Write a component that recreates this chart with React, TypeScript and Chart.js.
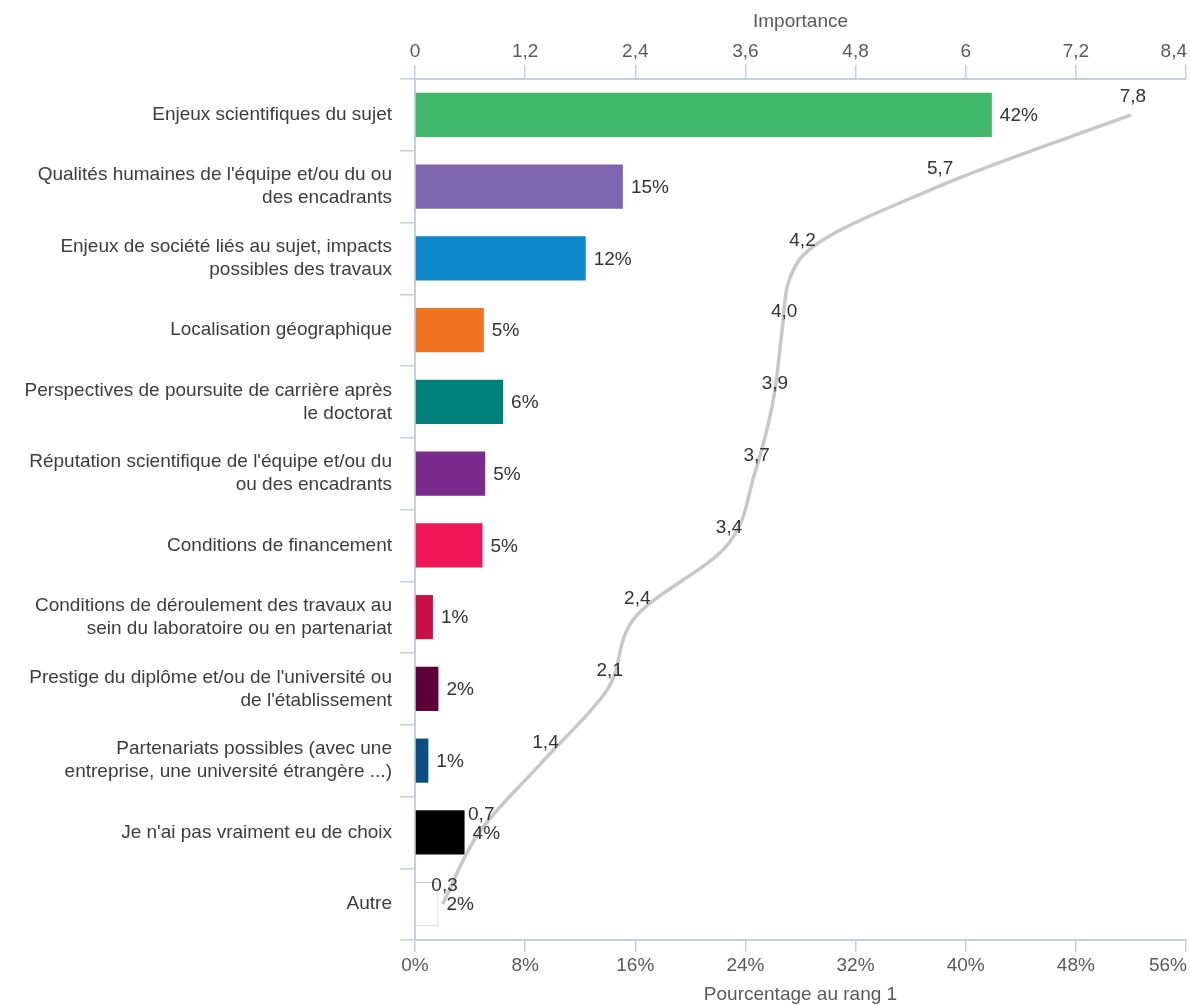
import React, { useEffect, useRef } from 'react';
import { Chart, registerables } from 'chart.js';

Chart.register(...registerables);

const categories: (string | string[])[] = [
  'Enjeux scientifiques du sujet',
  ["Qualités humaines de l'équipe et/ou du ou", 'des encadrants'],
  ['Enjeux de société liés au sujet, impacts', 'possibles des travaux'],
  'Localisation géographique',
  ['Perspectives de poursuite de carrière après', 'le doctorat'],
  ["Réputation scientifique de l'équipe et/ou du", 'ou des encadrants'],
  'Conditions de financement',
  ['Conditions de déroulement des travaux au', 'sein du laboratoire ou en partenariat'],
  ["Prestige du diplôme et/ou de l'université ou", "de l'établissement"],
  ['Partenariats possibles (avec une', 'entreprise, une université étrangère ...)'],
  "Je n'ai pas vraiment eu de choix",
  'Autre',
];

const rank1Percent = [41.9, 15.1, 12.4, 5.0, 6.4, 5.1, 4.9, 1.3, 1.7, 0.97, 3.6, 1.7];
const importance = [7.8, 5.7, 4.2, 4.0, 3.9, 3.7, 3.4, 2.4, 2.1, 1.4, 0.7, 0.3];

const barColors = [
  '#41b76a', '#7e67af', '#0c88ca', '#f07322', '#00807a', '#7b2b8d',
  '#ee1559', '#cc0f45', '#5f003a', '#0b4f82', '#000000', '#ffffff',
];
const barBorderColors = [
  '#41b76a', '#7e67af', '#0c88ca', '#f07322', '#00807a', '#7b2b8d',
  '#ee1559', '#cc0f45', '#5f003a', '#0b4f82', '#000000', '#cccccc',
];
const barBorderWidths = [0, 0, 0, 0, 0, 0, 0, 0, 0, 0, 0, 1];

const percentTickValues = [0, 8, 16, 24, 32, 40, 48, 56];
const percentTickLabels = ['0%', '8%', '16%', '24%', '32%', '40%', '48%', '56%'];
const importanceTickValues = [0, 1.2, 2.4, 3.6, 4.8, 6, 7.2, 8.4];
const importanceTickLabels = ['0', '1,2', '2,4', '3,6', '4,8', '6', '7,2', '8,4'];

const FONT = '"Liberation Sans", Arial, Helvetica, sans-serif';
const AXIS_COLOR = '#c6cfe2';
const TICK_TEXT = '#5a5a5a';
const CAT_TEXT = '#3d3d3d';
const DATA_TEXT = '#333333';

const fmtComma = (v: number) => String(Number(v.toFixed(1))).replace('.', ',');
const fmtOneDecimal = (v: number) => v.toFixed(1).replace('.', ',');

const customLabels = {
  id: 'customLabels',
  afterDraw(chart: any) {
    const ctx = chart.ctx as CanvasRenderingContext2D;
    ctx.save();
    ctx.font = `19px ${FONT}`;
    ctx.textBaseline = 'middle';

    const drawAxis = (id: string, labels: string[], yPos: number) => {
      const scale = chart.scales[id];
      ctx.fillStyle = TICK_TEXT;
      const n = scale.ticks.length;
      scale.ticks.forEach((t: any, i: number) => {
        const px = scale.getPixelForValue(t.value);
        const last = i === n - 1;
        ctx.textAlign = last ? 'right' : 'center';
        ctx.fillText(labels[i] ?? fmtComma(t.value), last ? px + 1 : px, yPos);
      });
    };
    drawAxis('x', percentTickLabels, chart.scales.x.top + 26);
    drawAxis('x2', importanceTickLabels, chart.scales.x2.bottom - 27);

    ctx.fillStyle = DATA_TEXT;
    const barMeta = chart.getDatasetMeta(0);
    ctx.textAlign = 'left';
    barMeta.data.forEach((el: any, i: number) => {
      ctx.fillText(`${Math.round(rank1Percent[i])}%`, el.x + 8, el.y + 1);
    });

    const lineMeta = chart.getDatasetMeta(1);
    ctx.textAlign = 'center';
    lineMeta.data.forEach((el: any, i: number) => {
      ctx.fillText(fmtOneDecimal(importance[i]), el.x + 2, el.y - 18);
    });
    ctx.restore();
  },
};

export default function App() {
  const canvasRef = useRef<HTMLCanvasElement | null>(null);

  useEffect(() => {
    document.body.style.margin = '0';
    document.body.style.overflow = 'hidden';
    const canvas = canvasRef.current;
    if (!canvas) return;

    const chart = new Chart(canvas, {
      type: 'bar',
      data: {
        labels: categories as any,
        datasets: [
          {
            type: 'bar',
            label: 'Pourcentage au rang 1',
            data: rank1Percent,
            backgroundColor: barColors,
            borderColor: barBorderColors,
            borderWidth: barBorderWidths,
            xAxisID: 'x',
            yAxisID: 'y',
            barPercentage: 0.615,
            categoryPercentage: 1,
            order: 2,
          } as any,
          {
            type: 'line',
            label: 'Importance',
            data: importance,
            indexAxis: 'y',
            xAxisID: 'x2',
            yAxisID: 'y',
            borderColor: '#c8c8c8',
            borderWidth: 3.5,
            pointRadius: 0,
            pointHoverRadius: 0,
            cubicInterpolationMode: 'monotone',
            fill: false,
            order: 1,
          } as any,
        ],
      },
      options: {
        indexAxis: 'y',
        responsive: false,
        animation: false,
        layout: { padding: { left: 0, right: 4, top: 0, bottom: 0 } },
        plugins: {
          legend: { display: false },
          tooltip: { enabled: false },
        },
        scales: {
          y: {
            type: 'category',
            position: 'left',
            offset: true,
            grid: {
              display: true,
              drawOnChartArea: false,
              drawTicks: true,
              tickLength: 15,
              offset: true,
              color: AXIS_COLOR,
              lineWidth: 1.5,
            },
            border: { display: true, color: AXIS_COLOR, width: 2 },
            ticks: {
              color: CAT_TEXT,
              font: { family: FONT, size: 19, lineHeight: 1.2 },
              padding: 8,
              autoSkip: false,
            },
            afterFit: (s: any) => {
              s.width = 415;
            },
          },
          x: {
            type: 'linear',
            position: 'bottom',
            min: 0,
            max: 56,
            afterBuildTicks: (s: any) => {
              s.ticks = percentTickValues.map((v) => ({ value: v }));
            },
            grid: {
              display: true,
              drawOnChartArea: false,
              drawTicks: true,
              tickLength: 12,
              color: AXIS_COLOR,
              lineWidth: 1.5,
            },
            border: { display: true, color: AXIS_COLOR, width: 2 },
            ticks: { display: false },
            title: {
              display: true,
              text: 'Pourcentage au rang 1',
              color: TICK_TEXT,
              font: { family: FONT, size: 19, lineHeight: 1 },
              padding: { top: 0, bottom: 0.5 },
            },
            afterFit: (s: any) => {
              s.height = 65;
            },
          },
          x2: {
            type: 'linear',
            position: 'top',
            min: 0,
            max: 8.4,
            afterBuildTicks: (s: any) => {
              s.ticks = importanceTickValues.map((v) => ({ value: v }));
            },
            grid: {
              display: true,
              drawOnChartArea: false,
              drawTicks: true,
              tickLength: 14,
              color: AXIS_COLOR,
              lineWidth: 1.5,
            },
            border: { display: true, color: AXIS_COLOR, width: 2 },
            ticks: { display: false },
            title: {
              display: true,
              text: 'Importance',
              color: TICK_TEXT,
              font: { family: FONT, size: 19, lineHeight: 1 },
              padding: { top: 12.5, bottom: 0 },
            },
            afterFit: (s: any) => {
              s.height = 79;
            },
          },
        },
      } as any,
      plugins: [customLabels],
    });

    return () => {
      chart.destroy();
    };
  }, []);

  return (
    <div style={{ width: 1190, height: 1005, overflow: 'hidden' }}>
      <canvas ref={canvasRef} width={1190} height={1005} style={{ display: 'block' }} />
    </div>
  );
}
